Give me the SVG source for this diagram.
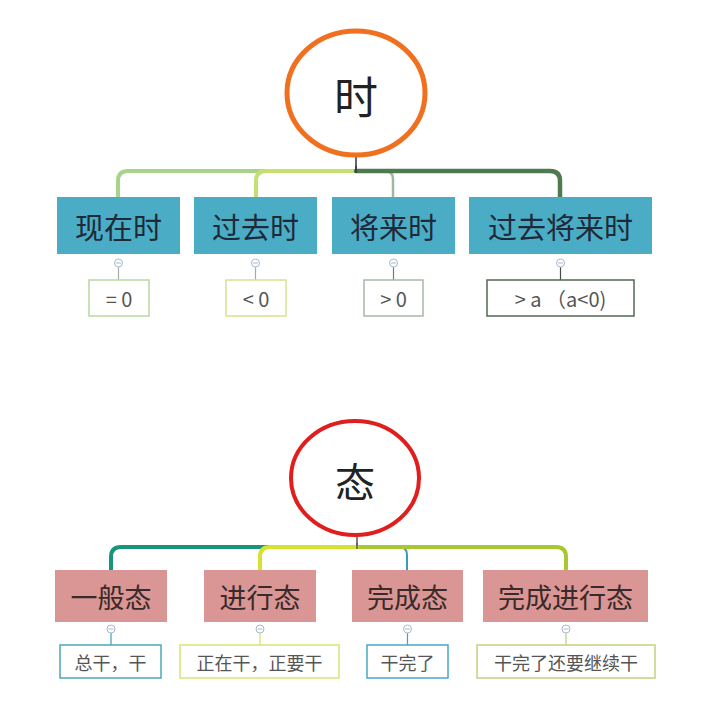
<svg xmlns="http://www.w3.org/2000/svg" width="707" height="702" viewBox="0 0 707 702">
<style>
text{font-family:"Noto Sans CJK SC","Noto Sans",sans-serif;text-anchor:middle;dominant-baseline:central}
.t1{fill:#4bacc6}
.t2{fill:#d99694}
.mt{font-size:29px;fill:#1e2a38}
.mb{font-size:27px;fill:#3a2a2a}
.ch{fill:#fff;stroke-width:1.5}
.ct{font-size:20px;fill:#555}
.cz{font-size:18px;fill:#555}
.col{fill:#fff;stroke:#a8b8d0;stroke-width:1}
.cm{stroke:#a8b8d0;stroke-width:1}
.br{fill:none;stroke-linecap:round}
</style>
<rect width="707" height="702" fill="#fff"/>
<g id="connectors">
  <!-- top -->
  <line x1="356" y1="157" x2="356" y2="171" stroke="#333" stroke-width="1.5"/>
  <path class="br" d="M356 171 H128 Q118 171 118 181 V197" stroke="#a8d48a" stroke-width="4"/>
  <path class="br" d="M356 171 H266 Q256 171 256 181 V197" stroke="#c4e070" stroke-width="4"/>
  <path class="br" d="M370 171 H385 Q393 171 393 179 V197" stroke="#a0b8a0" stroke-width="2.5"/>
  <path class="br" d="M356 171 H550 Q560 171 560 181 V197" stroke="#4e7a50" stroke-width="4.5"/>
  <line x1="356" y1="166" x2="356" y2="173" stroke="#333" stroke-width="1.5"/>
  <line x1="118.5" y1="267" x2="118.5" y2="280" stroke="#a0b0a0" stroke-width="1.2"/>
  <line x1="255.5" y1="267" x2="255.5" y2="280" stroke="#a0b0a0" stroke-width="1.2"/>
  <line x1="393.5" y1="267" x2="393.5" y2="280" stroke="#708070" stroke-width="1.2"/>
  <line x1="560.5" y1="267" x2="560.5" y2="280" stroke="#405040" stroke-width="1.2"/>
  <!-- bottom -->
  <line x1="357" y1="535" x2="357" y2="547" stroke="#555" stroke-width="1.5"/>
  <path class="br" d="M357 547 H121 Q111 547 111 557 V570" stroke="#16957a" stroke-width="4"/>
  <path class="br" d="M380 547 H399 Q407 547 407 555 V570" stroke="#3a9ab8" stroke-width="2"/>
  <path class="br" d="M357 547 H556 Q566 547 566 557 V570" stroke="#a8c830" stroke-width="4"/>
  <path class="br" d="M357 547 H270 Q260 547 260 557 V570" stroke="#d8e030" stroke-width="4"/>
  <line x1="357" y1="543" x2="357" y2="549" stroke="#555" stroke-width="1.5"/>
  <line x1="111" y1="633" x2="111" y2="645" stroke="#40a0b0" stroke-width="1.2"/>
  <line x1="260" y1="633" x2="260" y2="645" stroke="#d0e070" stroke-width="1.2"/>
  <line x1="407.5" y1="633" x2="407.5" y2="645" stroke="#40a0c0" stroke-width="1.2"/>
  <line x1="566" y1="633" x2="566" y2="645" stroke="#b8d070" stroke-width="1.2"/>
</g>
<g id="root-shi">
  <ellipse cx="356" cy="93" rx="69" ry="62" fill="#fff" stroke="#f07020" stroke-width="5"/>
  <text x="356" y="95" font-size="44" fill="#222">时</text>
</g>
<g id="n-xianzai">
  <rect class="t1" x="57" y="197" width="123" height="57"/>
  <text class="mt" x="118.5" y="226">现在时</text>
  <circle class="col" cx="118.5" cy="263" r="4"/><line class="cm" x1="116" y1="263" x2="121" y2="263"/>
</g>
<g id="n-guoqu">
  <rect class="t1" x="194" y="197" width="123" height="57"/>
  <text class="mt" x="255.5" y="226">过去时</text>
  <circle class="col" cx="255.5" cy="263" r="4"/><line class="cm" x1="253" y1="263" x2="258" y2="263"/>
</g>
<g id="n-jianglai">
  <rect class="t1" x="332" y="197" width="123" height="57"/>
  <text class="mt" x="393.5" y="226">将来时</text>
  <circle class="col" cx="393.5" cy="263" r="4"/><line class="cm" x1="391" y1="263" x2="396" y2="263"/>
</g>
<g id="n-guoqujianglai">
  <rect class="t1" x="469" y="197" width="183" height="57"/>
  <text class="mt" x="560.5" y="226">过去将来时</text>
  <circle class="col" cx="560.5" cy="263" r="4"/><line class="cm" x1="558" y1="263" x2="563" y2="263"/>
</g>
<g id="c-eq0">
  <rect class="ch" x="89" y="280" width="60" height="36" stroke="#b8d8a0"/>
  <text class="ct" x="119" y="298">= 0</text>
</g>
<g id="c-lt0">
  <rect class="ch" x="226" y="280" width="60" height="36" stroke="#d4e490"/>
  <text class="ct" x="256" y="298">&lt; 0</text>
</g>
<g id="c-gt0">
  <rect class="ch" x="364" y="280" width="59" height="36" stroke="#a8b8a8"/>
  <text class="ct" x="393.5" y="298">&gt; 0</text>
</g>
<g id="c-gta">
  <rect class="ch" x="487" y="280" width="147" height="36" stroke="#506850"/>
  <text class="ct" x="560.5" y="298">&gt; a （a&lt;0)</text>
</g>
<g id="root-tai">
  <ellipse cx="355" cy="478" rx="64" ry="57" fill="#fff" stroke="#e01e1e" stroke-width="4"/>
  <text x="355" y="480" font-size="40" fill="#222">态</text>
</g>
<g id="n-yiban">
  <rect class="t2" x="55" y="570" width="112" height="52"/>
  <text class="mb" x="111" y="596">一般态</text>
  <circle class="col" cx="111" cy="629" r="4"/><line class="cm" x1="108.5" y1="629" x2="113.5" y2="629"/>
</g>
<g id="n-jinxing">
  <rect class="t2" x="204" y="570" width="112" height="52"/>
  <text class="mb" x="260" y="596">进行态</text>
  <circle class="col" cx="260" cy="629" r="4"/><line class="cm" x1="257.5" y1="629" x2="262.5" y2="629"/>
</g>
<g id="n-wancheng">
  <rect class="t2" x="352" y="570" width="111" height="52"/>
  <text class="mb" x="407.5" y="596">完成态</text>
  <circle class="col" cx="407.5" cy="629" r="4"/><line class="cm" x1="405" y1="629" x2="410" y2="629"/>
</g>
<g id="n-wanchengjinxing">
  <rect class="t2" x="483" y="570" width="165" height="52"/>
  <text class="mb" x="565.5" y="596">完成进行态</text>
  <circle class="col" cx="566" cy="629" r="4"/><line class="cm" x1="563.5" y1="629" x2="568.5" y2="629"/>
</g>
<g id="c-zonggan">
  <rect class="ch" x="60" y="645" width="101" height="33" stroke="#48a8b8"/>
  <text class="cz" x="110.5" y="661.5">总干，干</text>
</g>
<g id="c-zhengzai">
  <rect class="ch" x="180" y="645" width="159" height="33" stroke="#d8e478"/>
  <text class="cz" x="259.5" y="661.5">正在干，正要干</text>
</g>
<g id="c-ganwan">
  <rect class="ch" x="367" y="645" width="81" height="33" stroke="#48a8c4"/>
  <text class="cz" x="407.5" y="661.5">干完了</text>
</g>
<g id="c-ganwanjixu">
  <rect class="ch" x="477" y="645" width="178" height="33" stroke="#c0d480"/>
  <text class="cz" x="566" y="661.5">干完了还要继续干</text>
</g>
</svg>
